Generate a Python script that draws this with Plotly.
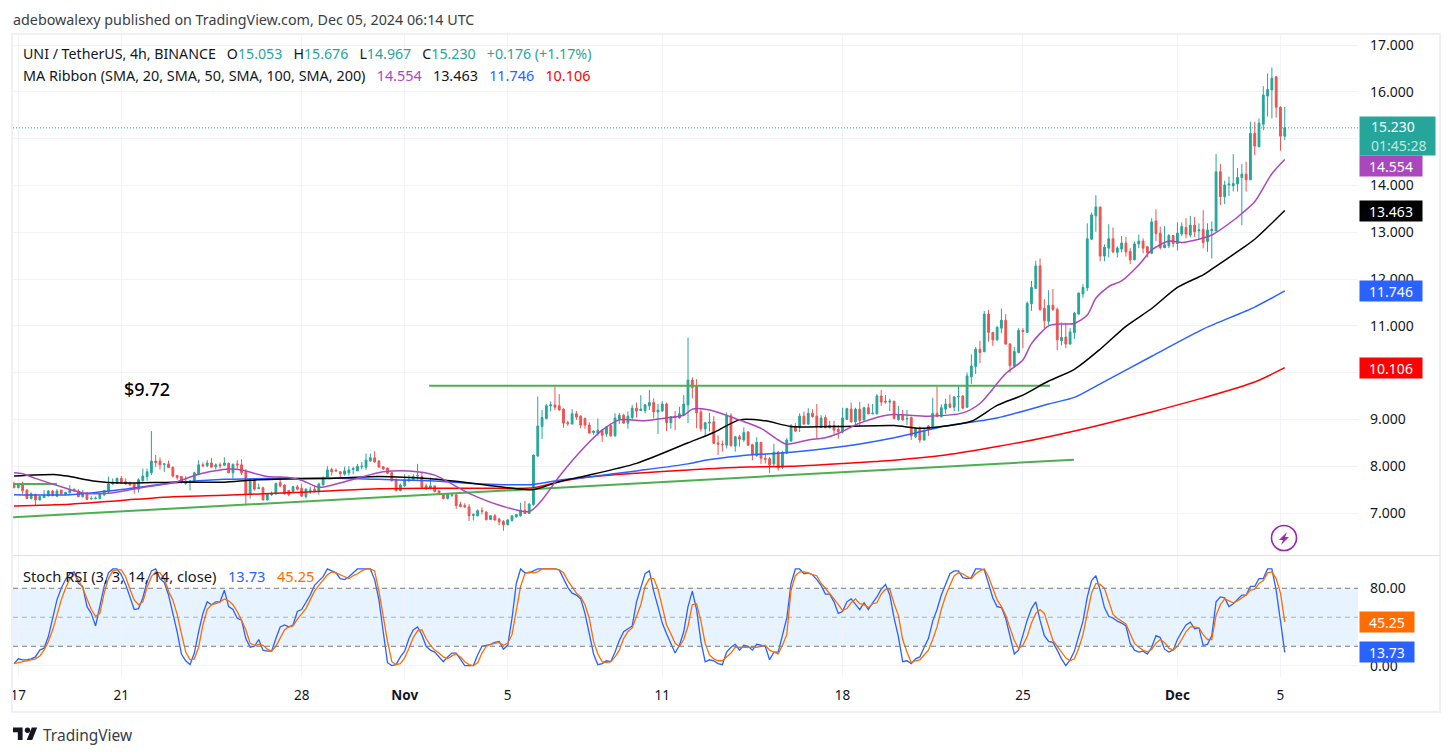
import pandas as pd
import plotly.graph_objects as go

# UNI / USDT 4h candles, first bar 2024-10-16 20:00
opens = [
    7.61, 7.54, 7.63, 7.49, 7.31, 7.40, 7.28, 7.33, 7.37, 7.47,
    7.36, 7.49, 7.40, 7.43, 7.51, 7.47, 7.35, 7.43, 7.30, 7.31,
    7.31, 7.39, 7.46, 7.62, 7.63, 7.74, 7.67, 7.64, 7.62, 7.51,
    7.69, 7.78, 7.86, 8.11, 8.11, 8.04, 8.05, 7.98, 7.80, 7.78,
    7.63, 7.66, 7.67, 7.83, 8.03, 8.01, 8.07, 7.99, 8.03, 8.02,
    8.06, 7.86, 8.05, 8.03, 7.88, 7.41, 7.71, 7.52, 7.54, 7.28,
    7.39, 7.41, 7.65, 7.60, 7.48, 7.46, 7.56, 7.53, 7.35, 7.48,
    7.51, 7.47, 7.60, 7.75, 7.93, 7.91, 7.88, 7.83, 7.86, 7.93,
    7.90, 7.99, 7.98, 8.11, 8.18, 8.11, 7.99, 7.96, 7.86, 7.71,
    7.48, 7.58, 7.69, 7.70, 7.79, 7.78, 7.58, 7.52, 7.58, 7.47,
    7.41, 7.31, 7.38, 7.39, 7.18, 7.16, 7.13, 6.95, 6.94, 7.05,
    7.02, 6.86, 6.94, 6.87, 6.82, 6.75, 6.84, 6.92, 6.94, 7.06,
    6.99, 7.18, 8.22, 8.85, 9.02, 9.29, 9.31, 9.29, 9.22, 8.93,
    8.90, 9.12, 9.07, 9.02, 8.88, 8.72, 8.70, 8.77, 8.69, 8.87,
    8.65, 9.00, 9.09, 8.92, 9.04, 9.24, 9.19, 9.19, 9.29, 9.36,
    9.16, 9.18, 9.33, 8.93, 9.07, 9.03, 9.09, 9.31, 9.84, 9.71,
    9.16, 8.80, 8.92, 8.95, 8.50, 8.47, 8.45, 9.08, 8.43, 8.63,
    8.56, 8.73, 8.46, 8.23, 8.51, 8.17, 8.16, 8.05, 8.30, 7.97,
    8.28, 8.54, 8.85, 8.83, 9.07, 8.90, 9.13, 9.07, 8.83, 9.04,
    8.82, 8.87, 8.79, 8.73, 9.00, 9.22, 8.95, 9.22, 8.99, 9.25,
    9.12, 9.12, 9.50, 9.39, 9.37, 9.39, 9.00, 9.09, 9.01, 9.04,
    8.63, 8.81, 8.56, 8.86, 8.82, 9.13, 9.06, 9.22, 9.33, 9.26,
    9.48, 9.50, 9.26, 9.91, 10.13, 10.50, 10.45, 11.25, 10.86, 10.70,
    10.95, 11.12, 10.61, 10.14, 10.43, 10.90, 10.86, 11.47, 11.80, 12.28,
    11.37, 11.10, 11.44, 11.35, 10.68, 10.76, 10.61, 10.85, 11.25, 11.68,
    11.81, 12.85, 13.35, 13.54, 12.49, 12.66, 12.86, 12.57, 12.64, 12.77,
    12.59, 12.41, 12.75, 12.81, 12.69, 12.55, 13.24, 12.98, 12.67, 12.71,
    12.93, 12.76, 12.96, 13.10, 12.94, 13.15, 13.03, 13.06, 12.80, 13.03,
    13.03, 14.29, 13.76, 14.01, 13.99, 14.03, 14.17, 14.24, 14.12, 15.11,
    14.83, 15.31, 15.91, 16.04, 16.32, 15.67, 15.053,
]
highs = [
    7.67, 7.62, 7.67, 7.51, 7.44, 7.41, 7.37, 7.49, 7.49, 7.49,
    7.51, 7.49, 7.45, 7.60, 7.52, 7.51, 7.49, 7.45, 7.36, 7.35,
    7.42, 7.49, 7.78, 7.74, 7.76, 7.79, 7.74, 7.67, 7.63, 7.74,
    7.95, 7.95, 8.75, 8.24, 8.19, 8.06, 8.12, 7.99, 7.81, 7.79,
    7.79, 7.71, 7.88, 8.13, 8.08, 8.13, 8.18, 8.06, 8.08, 8.19,
    8.08, 8.06, 8.13, 8.15, 7.94, 7.74, 7.72, 7.63, 7.56, 7.43,
    7.46, 7.65, 7.79, 7.61, 7.49, 7.58, 7.60, 7.63, 7.53, 7.56,
    7.58, 7.65, 7.78, 8.00, 7.97, 7.95, 7.90, 7.99, 8.00, 7.99,
    8.05, 8.09, 8.27, 8.27, 8.32, 8.13, 8.00, 7.97, 7.88, 7.74,
    7.63, 7.83, 7.81, 7.83, 8.05, 7.88, 7.63, 7.76, 7.59, 7.49,
    7.42, 7.42, 7.43, 7.42, 7.24, 7.21, 7.19, 6.99, 7.08, 7.12,
    7.04, 6.96, 6.98, 6.90, 6.85, 6.87, 6.94, 6.98, 7.22, 7.26,
    7.21, 8.25, 9.49, 9.20, 9.33, 9.38, 9.70, 9.54, 9.24, 8.97,
    9.22, 9.18, 9.09, 9.04, 8.94, 8.77, 9.02, 8.79, 8.86, 8.90,
    9.13, 9.14, 9.12, 9.17, 9.31, 9.36, 9.52, 9.33, 9.63, 9.45,
    9.33, 9.39, 9.36, 9.07, 9.18, 9.27, 9.52, 10.75, 9.90, 9.86,
    9.24, 8.95, 9.14, 9.07, 8.66, 8.55, 9.15, 9.13, 8.65, 8.67,
    8.83, 8.75, 8.48, 8.62, 8.52, 8.28, 8.20, 8.48, 8.33, 8.33,
    8.60, 8.90, 8.92, 9.13, 9.17, 9.24, 9.22, 9.33, 9.09, 9.09,
    8.97, 8.97, 8.88, 9.25, 9.25, 9.36, 9.25, 9.38, 9.27, 9.34,
    9.33, 9.54, 9.63, 9.52, 9.44, 9.39, 9.29, 9.20, 9.20, 9.06,
    8.82, 8.85, 8.79, 8.88, 9.46, 9.70, 9.32, 9.44, 9.53, 9.50,
    9.71, 9.52, 10.00, 10.39, 10.55, 10.68, 11.32, 11.34, 10.86, 10.99,
    11.37, 11.25, 10.63, 10.55, 10.95, 10.95, 11.52, 11.96, 12.39, 12.44,
    11.57, 11.76, 11.79, 11.39, 11.07, 11.07, 10.95, 11.30, 11.71, 11.89,
    13.19, 13.42, 13.79, 13.54, 12.74, 13.17, 13.10, 12.70, 12.92, 12.90,
    12.66, 12.80, 12.95, 12.87, 12.71, 13.30, 13.49, 13.12, 13.13, 12.96,
    12.94, 13.21, 13.21, 13.30, 13.35, 13.33, 13.19, 13.47, 13.19, 13.23,
    14.67, 14.46, 14.10, 14.19, 14.67, 14.37, 14.46, 14.51, 15.36, 15.36,
    15.43, 16.12, 16.39, 16.52, 16.34, 15.69, 15.676,
]
lows = [
    7.54, 7.53, 7.41, 7.30, 7.29, 7.17, 7.27, 7.32, 7.35, 7.36,
    7.34, 7.39, 7.38, 7.42, 7.46, 7.34, 7.33, 7.28, 7.29, 7.29,
    7.29, 7.36, 7.42, 7.60, 7.62, 7.63, 7.61, 7.58, 7.41, 7.44,
    7.67, 7.69, 7.81, 7.98, 7.93, 7.88, 7.96, 7.76, 7.71, 7.63,
    7.60, 7.48, 7.66, 7.81, 7.98, 7.98, 7.98, 7.93, 7.95, 8.01,
    7.85, 7.74, 7.92, 7.81, 7.16, 7.31, 7.48, 7.51, 7.27, 7.27,
    7.36, 7.39, 7.55, 7.40, 7.36, 7.45, 7.48, 7.35, 7.31, 7.41,
    7.44, 7.39, 7.59, 7.74, 7.80, 7.88, 7.76, 7.80, 7.80, 7.83,
    7.90, 7.93, 7.92, 8.10, 8.08, 7.98, 7.92, 7.83, 7.67, 7.46,
    7.46, 7.56, 7.66, 7.69, 7.71, 7.54, 7.49, 7.51, 7.44, 7.39,
    7.29, 7.29, 7.34, 7.09, 7.12, 7.11, 6.83, 6.84, 6.93, 6.97,
    6.84, 6.85, 6.84, 6.74, 6.62, 6.74, 6.82, 6.90, 6.92, 6.98,
    6.98, 7.16, 8.20, 8.58, 9.00, 9.17, 9.20, 9.19, 8.82, 8.86,
    8.90, 8.99, 8.81, 8.80, 8.70, 8.67, 8.65, 8.52, 8.63, 8.63,
    8.63, 8.90, 8.91, 8.80, 8.99, 9.04, 9.18, 9.13, 9.20, 9.02,
    8.69, 9.16, 8.75, 8.80, 8.77, 9.02, 9.07, 8.92, 9.45, 8.81,
    8.74, 8.63, 8.74, 8.48, 8.24, 8.31, 8.38, 8.42, 8.31, 8.42,
    8.52, 8.44, 8.13, 8.20, 8.05, 8.06, 7.86, 7.99, 7.91, 7.94,
    8.26, 8.52, 8.73, 8.73, 8.89, 8.88, 9.04, 8.60, 8.82, 8.81,
    8.81, 8.69, 8.59, 8.70, 8.99, 8.93, 8.85, 8.85, 8.97, 9.11,
    9.11, 9.11, 9.29, 9.34, 9.18, 9.00, 8.97, 8.97, 8.88, 8.56,
    8.60, 8.50, 8.55, 8.65, 8.80, 9.06, 9.04, 9.12, 9.24, 9.17,
    9.17, 9.23, 9.25, 9.76, 9.97, 10.20, 10.43, 10.66, 10.57, 10.68,
    10.84, 10.60, 10.00, 10.11, 10.41, 10.52, 10.85, 11.32, 11.79, 11.32,
    10.95, 11.02, 11.32, 10.48, 10.58, 10.52, 10.60, 10.72, 11.24, 11.60,
    11.74, 12.83, 13.01, 12.38, 12.38, 12.46, 12.55, 12.46, 12.57, 12.48,
    12.32, 12.40, 12.66, 12.55, 12.46, 12.53, 12.81, 12.63, 12.66, 12.66,
    12.68, 12.61, 12.92, 12.87, 12.89, 12.90, 12.86, 12.66, 12.58, 12.44,
    13.01, 13.58, 13.60, 13.77, 13.87, 13.87, 13.15, 13.87, 14.12, 14.65,
    14.81, 15.18, 15.47, 15.43, 15.45, 14.74, 14.967,
]
closes = [
    7.54, 7.61, 7.48, 7.31, 7.41, 7.28, 7.35, 7.38, 7.47, 7.37,
    7.47, 7.41, 7.44, 7.49, 7.47, 7.35, 7.42, 7.29, 7.31, 7.32,
    7.41, 7.48, 7.62, 7.65, 7.74, 7.66, 7.62, 7.60, 7.51, 7.71,
    7.79, 7.88, 8.11, 8.08, 8.03, 8.05, 7.97, 7.79, 7.76, 7.66,
    7.68, 7.68, 7.86, 8.03, 8.01, 8.07, 7.98, 8.03, 8.01, 8.07,
    7.86, 8.04, 8.03, 7.86, 7.41, 7.72, 7.51, 7.54, 7.28, 7.42,
    7.42, 7.63, 7.58, 7.41, 7.39, 7.56, 7.51, 7.36, 7.51, 7.49,
    7.48, 7.62, 7.76, 7.92, 7.88, 7.90, 7.84, 7.90, 7.92, 7.95,
    8.00, 8.00, 8.13, 8.18, 8.09, 7.98, 7.94, 7.85, 7.69, 7.48,
    7.60, 7.71, 7.72, 7.78, 7.80, 7.55, 7.54, 7.58, 7.46, 7.41,
    7.31, 7.41, 7.39, 7.16, 7.14, 7.13, 6.94, 6.97, 7.05, 7.04,
    6.86, 6.94, 6.85, 6.81, 6.75, 6.85, 6.94, 6.97, 7.06, 6.99,
    7.19, 8.24, 8.86, 9.04, 9.29, 9.31, 9.26, 9.20, 8.92, 8.91,
    9.12, 9.05, 8.88, 8.88, 8.71, 8.75, 8.77, 8.66, 8.84, 8.65,
    9.03, 9.09, 8.92, 9.07, 9.24, 9.18, 9.22, 9.31, 9.36, 9.16,
    9.20, 9.33, 8.93, 9.06, 9.04, 9.12, 9.33, 9.84, 9.68, 9.14,
    8.80, 8.93, 8.94, 8.49, 8.47, 8.46, 9.08, 8.44, 8.63, 8.58,
    8.72, 8.45, 8.24, 8.51, 8.17, 8.15, 8.03, 8.30, 7.96, 8.30,
    8.56, 8.86, 8.75, 9.07, 8.90, 9.13, 9.06, 8.85, 9.03, 8.82,
    8.87, 8.77, 8.74, 9.03, 9.23, 8.95, 9.22, 8.98, 9.25, 9.12,
    9.13, 9.50, 9.37, 9.37, 9.39, 9.02, 9.10, 8.99, 9.02, 8.65,
    8.81, 8.56, 8.77, 8.79, 9.13, 9.06, 9.25, 9.33, 9.26, 9.48,
    9.49, 9.24, 9.93, 10.14, 10.50, 10.43, 11.25, 10.86, 10.70, 10.97,
    11.12, 10.61, 10.15, 10.45, 10.90, 10.88, 11.48, 11.82, 12.28, 11.35,
    11.11, 11.44, 11.35, 10.70, 10.75, 10.61, 10.87, 11.27, 11.70, 11.82,
    12.86, 13.37, 13.54, 12.49, 12.68, 12.86, 12.58, 12.66, 12.77, 12.58,
    12.41, 12.75, 12.81, 12.66, 12.56, 13.22, 12.97, 12.67, 12.73, 12.93,
    12.76, 12.98, 13.12, 12.96, 13.15, 13.01, 13.05, 12.78, 13.05, 13.06,
    14.29, 13.76, 14.01, 14.03, 14.04, 14.17, 14.24, 14.12, 15.11, 14.84,
    15.33, 15.93, 16.05, 16.29, 15.67, 15.053, 15.230,
]

# moving averages, sampled at the listed bar numbers (bar 0 = 2024-10-17 00:00)
sma20_bars = [-1, 1, 4, 10, 15, 21, 28, 37, 42, 49, 52, 58, 63, 66, 70, 76, 85, 91, 97, 105,
              113, 119, 122, 126, 132, 136, 140, 146, 150, 155, 157, 161, 167, 173, 177,
              179, 184, 188, 191, 196, 203, 212, 220, 224, 230, 234, 236, 240, 243, 246,
              249, 251, 254, 257, 261, 264, 268, 271, 275, 278, 283, 285, 288, 292, 295]
sma20 = [7.86, 7.84, 7.74, 7.56, 7.43, 7.42, 7.53, 7.67, 7.83, 7.94, 7.92, 7.78, 7.76, 7.70, 7.55, 7.67, 7.88, 7.90, 7.81, 7.42,
         7.14, 7.03, 7.28, 7.78, 8.42, 8.77, 8.99, 8.97, 9.02, 9.09, 9.22, 9.20, 9.02, 8.81, 8.56,
         8.47, 8.56, 8.61, 8.70, 8.92, 9.10, 9.07, 9.14, 9.34, 9.98, 10.27, 10.62, 11.00, 11.04, 11.05,
         11.23, 11.59, 11.84, 11.96, 12.30, 12.62, 12.81, 12.78, 12.85, 12.94, 13.25, 13.40, 13.65, 14.25, 14.554]
sma50_bars = [-1, 9, 12, 18, 24, 36, 48, 54, 60, 72, 84, 96, 108, 116, 120, 126, 132, 144, 156, 162, 168,
              174, 180, 192, 204, 210, 216, 222, 228, 234, 240, 246, 252, 258, 264, 270, 276, 278, 285, 288, 295]
sma50 = [7.79, 7.82, 7.78, 7.68, 7.64, 7.66, 7.66, 7.70, 7.72, 7.74, 7.78, 7.73, 7.61, 7.52, 7.50, 7.67, 7.79, 8.06, 8.50, 8.72, 8.99,
         8.97, 8.85, 8.85, 8.87, 8.81, 8.86, 8.96, 9.30, 9.52, 9.82, 10.07, 10.50, 10.99, 11.37, 11.82, 12.09, 12.21, 12.65, 12.85, 13.463]
sma100_bars = [-1, 12, 24, 36, 48, 60, 72, 84, 96, 108, 120, 126, 132, 144, 156, 160, 168, 180, 192, 204,
               216, 228, 240, 246, 252, 264, 276, 288, 295]
sma100 = [7.39, 7.39, 7.50, 7.64, 7.72, 7.74, 7.75, 7.72, 7.69, 7.62, 7.61, 7.70, 7.76, 7.90, 8.05, 8.13, 8.22, 8.30, 8.42, 8.61,
          8.86, 9.03, 9.33, 9.47, 9.76, 10.35, 10.93, 11.40, 11.746]
sma200_bars = [-1, 12, 24, 36, 48, 60, 72, 84, 96, 108, 120, 126, 132, 144, 156, 168, 180, 192, 204, 216,
               228, 240, 252, 264, 276, 288, 295]
sma200 = [7.15, 7.19, 7.27, 7.35, 7.38, 7.42, 7.47, 7.52, 7.53, 7.53, 7.54, 7.67, 7.76, 7.85, 7.92, 7.98, 8.00, 8.06, 8.13, 8.24,
          8.42, 8.63, 8.88, 9.16, 9.46, 9.80, 10.106]

# Stochastic RSI, one reading per bar
stoch_k = [
    2, 7, 6, 6, 7, 9, 16, 18, 30, 49,
    68, 80, 89, 95, 97, 85, 82, 61, 54, 41,
    63, 82, 96, 100, 100, 94, 84, 71, 58, 59,
    70, 87, 98, 100, 90, 86, 73, 54, 35, 12,
    5, 1, 13, 35, 54, 66, 63, 66, 66, 78,
    61, 58, 49, 47, 28, 19, 20, 27, 16, 15,
    15, 28, 40, 42, 40, 42, 56, 58, 66, 73,
    83, 87, 92, 100, 98, 96, 90, 89, 92, 96,
    100, 100, 100, 100, 89, 68, 35, 3, 0, 1,
    9, 15, 28, 37, 40, 32, 20, 16, 14, 9,
    4, 9, 13, 13, 6, 0, 0, 0, 11, 20,
    21, 22, 24, 25, 17, 21, 49, 85, 100, 96,
    96, 98, 100, 100, 100, 100, 100, 99, 90, 81,
    75, 73, 69, 54, 33, 12, 1, 2, 5, 4,
    14, 26, 35, 38, 41, 66, 80, 95, 98, 77,
    61, 44, 33, 23, 13, 21, 35, 61, 77, 58,
    25, 4, 6, 5, 2, 1, 14, 19, 22, 16,
    21, 20, 16, 22, 21, 20, 6, 14, 14, 33,
    49, 85, 100, 100, 95, 96, 94, 89, 83, 74,
    74, 66, 54, 56, 66, 69, 64, 58, 65, 58,
    65, 71, 79, 84, 73, 49, 30, 4, 5, 2,
    7, 9, 19, 28, 46, 58, 73, 85, 95, 98,
    98, 91, 90, 91, 100, 100, 99, 85, 70, 61,
    60, 49, 29, 12, 16, 33, 47, 59, 66, 47,
    31, 25, 24, 16, 7, 0, 6, 15, 32, 46,
    71, 88, 93, 78, 60, 51, 49, 46, 44, 41,
    23, 16, 14, 15, 12, 19, 31, 29, 17, 14,
    16, 27, 35, 42, 45, 38, 39, 21, 22, 31,
    66, 71, 70, 61, 64, 69, 73, 73, 82, 82,
    90, 90, 100, 100, 78, 46, 13.73,
]
stoch_d = [
    2, 3, 4, 5, 6, 7, 10, 16, 25, 37,
    52, 68, 80, 90, 95, 89, 80, 68, 58, 51,
    54, 75, 90, 98, 99, 99, 92, 79, 68, 63,
    66, 81, 92, 97, 96, 90, 77, 68, 53, 33,
    14, 6, 7, 19, 42, 58, 63, 64, 66, 69,
    67, 63, 56, 47, 37, 23, 21, 22, 21, 17,
    15, 20, 29, 37, 40, 41, 48, 54, 59, 68,
    77, 83, 89, 94, 97, 96, 94, 92, 90, 93,
    95, 98, 100, 100, 98, 77, 49, 25, 4, 1,
    2, 8, 18, 29, 36, 37, 28, 21, 16, 13,
    9, 7, 10, 12, 9, 4, 1, 0, 3, 13,
    20, 22, 23, 24, 21, 23, 32, 56, 82, 95,
    97, 96, 97, 100, 100, 100, 100, 99, 96, 88,
    82, 75, 71, 63, 49, 25, 12, 4, 3, 4,
    9, 16, 28, 35, 39, 52, 63, 82, 90, 90,
    79, 61, 42, 33, 23, 20, 27, 41, 63, 64,
    46, 23, 11, 7, 5, 5, 9, 13, 19, 19,
    19, 19, 19, 19, 20, 21, 16, 14, 12, 21,
    32, 78, 93, 97, 97, 96, 94, 93, 85, 80,
    75, 69, 63, 57, 59, 65, 69, 64, 63, 60,
    64, 65, 74, 79, 79, 64, 52, 27, 14, 3,
    5, 6, 11, 16, 27, 40, 58, 72, 83, 93,
    96, 95, 92, 90, 95, 98, 100, 92, 80, 68,
    61, 52, 39, 26, 18, 21, 30, 44, 54, 58,
    54, 39, 26, 20, 14, 8, 5, 7, 18, 32,
    54, 75, 85, 84, 80, 66, 53, 49, 46, 43,
    33, 23, 19, 16, 14, 17, 23, 27, 24, 18,
    16, 20, 27, 35, 40, 40, 39, 32, 27, 27,
    52, 63, 69, 67, 65, 67, 70, 73, 78, 79,
    85, 88, 96, 97, 90, 75, 45.25,
]

# axis labels; gridlines sit at every value, blank labels lie under the value tags
price_ticks = [7, 8, 9, 10, 11, 12, 13, 14, 15, 16, 17]
price_labels = ["7.000", "8.000", "9.000", "", "11.000", "12.000", "13.000", "14.000", "", "16.000", "17.000"]
stoch_ticks = [0, 40, 80]
stoch_labels = ["0.00", "", "80.00"]
date_ticks = ["2024-10-17", "2024-10-21", "2024-10-28", "2024-11-01", "2024-11-05",
              "2024-11-11", "2024-11-18", "2024-11-25", "2024-12-01", "2024-12-05"]
date_labels = ["17", "21", "28", "<b>Nov</b>", "5", "11", "18", "25", "<b>Dec</b>", "5"]

# drawn trend lines: (first bar, last bar, first price, last price)
resistance = (95.7, 240.3, 9.72, 9.72)
support = (-1.2, 245.9, 6.91, 8.14)
old_level = (-1.2, 9.0, 7.62, 7.62)

UP, DOWN = "#26A69A", "#EF5350"
C20, C50, C100, C200 = "#AB47BC", "#000000", "#2962FF", "#FF0000"
TREND = "#4CAF50"
K_COL, D_COL = "#2962FF", "#FF6D00"
GRID = "#F2F3F6"
FRAME = "#EEF0F6"
TEXT = "#131722"
FONT = "Noto Sans"
GAP = "\u00a0\u00a0\u00a0"

assert len(opens) == len(highs) == len(lows) == len(closes) == len(stoch_k) == len(stoch_d) == 297

ORIGIN = pd.Timestamp("2024-10-17")


def bar_time(n):
    return ORIGIN + pd.Timedelta(hours=4 * n)


times = [bar_time(n) for n in range(-1, 296)]

# page layout in pixels
W, H = 1453, 756
L, R, T, B = 13, 1358, 35, 677


def px(x):
    return (x - L) / (R - L)


def py(y):
    return 1 - (y - T) / (B - T)


fig = go.Figure()
fig.add_trace(go.Candlestick(
    x=times, open=opens, high=highs, low=lows, close=closes,
    increasing=dict(line=dict(color=UP, width=1), fillcolor=UP),
    decreasing=dict(line=dict(color=DOWN, width=1), fillcolor=DOWN),
    whiskerwidth=0, hoverinfo="skip", showlegend=False,
))

for line in (support, resistance, old_level):
    fig.add_trace(go.Scatter(
        x=[bar_time(line[0]), bar_time(line[1])], y=[line[2], line[3]], mode="lines",
        line=dict(color=TREND, width=2), hoverinfo="skip", showlegend=False,
    ))

for bars, vals, col in ((sma200_bars, sma200, C200), (sma100_bars, sma100, C100),
                        (sma50_bars, sma50, C50), (sma20_bars, sma20, C20)):
    fig.add_trace(go.Scatter(
        x=[bar_time(b) for b in bars], y=vals, mode="lines",
        line=dict(color=col, width=1.5, shape="spline", smoothing=0.7), hoverinfo="skip", showlegend=False,
    ))

for vals, col in ((stoch_k, K_COL), (stoch_d, D_COL)):
    fig.add_trace(go.Scatter(
        x=times, y=vals, mode="lines", xaxis="x2", yaxis="y2",
        line=dict(color=col, width=1.3), hoverinfo="skip", showlegend=False,
    ))

shapes = [
    # overbought / oversold band
    dict(type="rect", xref="paper", yref="y2", x0=0, x1=1, y0=20, y1=80,
         fillcolor="rgba(33,150,243,0.11)", line_width=0, layer="below"),
    dict(type="line", xref="paper", yref="y2", x0=0, x1=1, y0=80, y1=80,
         line=dict(color="#787B86", width=1, dash="5px,4px")),
    dict(type="line", xref="paper", yref="y2", x0=0, x1=1, y0=20, y1=20,
         line=dict(color="#787B86", width=1, dash="5px,4px")),
    dict(type="line", xref="paper", yref="y2", x0=0, x1=1, y0=50, y1=50,
         line=dict(color="rgba(120,123,134,0.55)", width=1, dash="5px,4px")),
    # last price
    dict(type="line", xref="paper", yref="y", x0=0, x1=1, y0=closes[-1], y1=closes[-1],
         line=dict(color=UP, width=1, dash="1px,2px")),
    # covers the part of the first date label that runs past the frame
    dict(type="rect", xref="paper", yref="paper", x0=px(0), x1=px(13), y0=py(712), y1=py(678),
         fillcolor="white", line_width=0, layer="above"),
    # frame and pane divider
    dict(type="rect", xref="paper", yref="paper", x0=px(12), x1=px(1440), y0=py(712), y1=py(34),
         fillcolor="rgba(0,0,0,0)", line=dict(color=FRAME, width=2), layer="above"),
    dict(type="line", xref="paper", yref="paper", x0=px(13), x1=px(1440), y0=py(555.5), y1=py(555.5),
         line=dict(color="#E0E3EB", width=1), layer="above"),
    # alert badge
    dict(type="circle", xref="paper", yref="paper", x0=px(1271.5), x1=px(1296.5), y0=py(550.5), y1=py(525.5),
         fillcolor="white", line=dict(color="#9C27B0", width=1.6), layer="above"),
]


def page_path(points):
    return "M" + " L".join(f"{px(x):.5f} {py(y):.5f}" for x, y in points) + " Z"


shapes.append(dict(type="path", xref="paper", yref="paper", layer="above",
                   path=page_path([(1287, 532), (1279, 540), (1283, 540), (1281, 545), (1289, 537), (1285, 537)]),
                   fillcolor="#9C27B0", line_width=0))

# TradingView mark
for pts in ([(13, 727.5), (22.6, 727.5), (22.6, 740), (17.8, 740), (17.8, 732.3), (13, 732.3)],
            [(26.7, 740), (31.8, 727.5), (37.2, 727.5), (32.2, 740)]):
    shapes.append(dict(type="path", xref="paper", yref="paper", layer="above", path=page_path(pts),
                       fillcolor=TEXT, line_width=0))
shapes.append(dict(type="circle", xref="paper", yref="paper", x0=px(24.8), x1=px(30.2), y0=py(733), y1=py(727.5),
                   fillcolor=TEXT, line_width=0, layer="above"))


def page_text(x, y, text, size=14, color=TEXT, weight=None):
    font = dict(family=FONT, size=size, color=color)
    if weight:
        font["weight"] = weight
    return dict(xref="paper", yref="paper", x=px(x - 2), y=py(y), text=text, showarrow=False,
                xanchor="left", yanchor="middle", align="left", font=font)


def green(s):
    return f'<span style="color:{UP}">{s}</span>'


def colored(s, c):
    return f'<span style="color:{c}">{s}</span>'


annotations = [
    page_text(13, 20, "adebowalexy published on TradingView.com, Dec 05, 2024 06:14 UTC", 14.3, "#3A3D46"),
    page_text(23, 54, "UNI / TetherUS, 4h, BINANCE" + GAP + "O" + green("15.053") + GAP + "H" + green("15.676")
              + GAP + "L" + green("14.967") + GAP + "C" + green("15.230") + GAP + green("+0.176 (+1.17%)"), 14.2),
    page_text(23, 75, "MA Ribbon (SMA, 20, SMA, 50, SMA, 100, SMA, 200)" + GAP + colored("14.554", C20) + GAP + "13.463"
              + GAP + colored("11.746", C100) + GAP + colored("10.106", C200), 14.4),
    page_text(23, 576, "Stoch RSI (3, 3, 14, 14, close)" + GAP + colored("13.73", K_COL) + GAP + colored("45.25", D_COL), 14.7),
    page_text(124, 389, "$9.72", 18, "#000000", 500),
    page_text(43, 735, "TradingView", 15.5, "#3A3D46"),
]


def tag(value, yref, text, color, width, height=20, yshift=0, align="center"):
    return dict(xref="paper", yref=yref, x=px(1359), y=value, text=text, showarrow=False,
                xanchor="left", yanchor="middle", align=align, bgcolor=color,
                width=width, height=height, yshift=yshift, borderpad=0,
                font=dict(family=FONT, size=14, color="white"))


PAD = "\u00a0\u00a0\u00a0"
annotations += [
    tag(closes[-1], "y", PAD + '15.230<br>' + PAD + '<span style="color:#BFE6E1">01:45:28</span>', UP, 75, 38, -8, "left"),
    tag(sma20[-1], "y", "14.554", C20, 62, 20, -7),
    tag(sma50[-1], "y", "13.463", C50, 62),
    tag(sma100[-1], "y", "11.746", C100, 62),
    tag(sma200[-1], "y", "10.106", C200, 62),
    tag(stoch_d[-1], "y2", "45.25", D_COL, 54),
    tag(stoch_k[-1], "y2", "13.73", K_COL, 54),
]

x_common = dict(type="date", range=[bar_time(-1.235), bar_time(312.06)], showgrid=True, gridcolor=GRID,
                gridwidth=1, tickmode="array", tickvals=date_ticks, zeroline=False, showline=False, ticks="",
                rangeslider=dict(visible=False))

fig.update_layout(
    width=W, height=H, paper_bgcolor="white", plot_bgcolor="white",
    margin=dict(l=L, r=W - R, t=T, b=H - B, autoexpand=False),
    boxgap=0.4, showlegend=False, hovermode=False, dragmode=False,
    font=dict(family=FONT, color=TEXT, size=14),
    xaxis=dict(**x_common, domain=[0, 1], anchor="y", showticklabels=False),
    xaxis2=dict(**x_common, domain=[0, 1], anchor="y2", matches="x", ticktext=date_labels,
                ticklabelstandoff=8, tickfont=dict(family=FONT, size=13.5, color=TEXT)),
    yaxis=dict(domain=[(B - 555) / (B - T), 1], range=[6.103, 17.214], side="right", anchor="x",
               tickmode="array", tickvals=price_ticks, ticktext=price_labels, showgrid=True, gridcolor=GRID,
               zeroline=False, ticks="", ticklabelstandoff=11, tickfont=dict(family=FONT, size=14, color=TEXT)),
    yaxis2=dict(domain=[0, (B - 556) / (B - T)], range=[-11.8, 113.4], side="right", anchor="x2",
                tickmode="array", tickvals=stoch_ticks, ticktext=stoch_labels, showgrid=True, gridcolor=GRID,
                zeroline=False, ticks="", ticklabelstandoff=11, tickfont=dict(family=FONT, size=14, color=TEXT)),
    shapes=shapes, annotations=annotations,
)

fig.write_html("out.html", config=dict(displayModeBar=False))
